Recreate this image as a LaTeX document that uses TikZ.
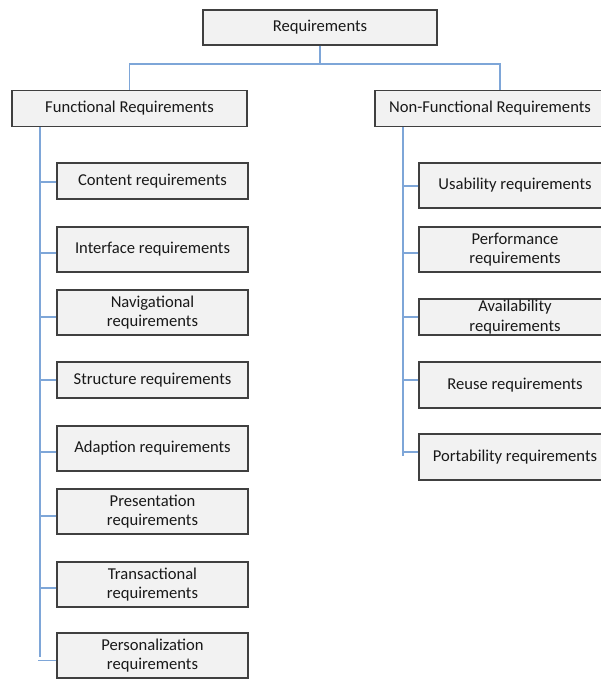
\documentclass[tikz,border=0pt]{standalone}
\usepackage{fontspec}
\setmainfont{Carlito}
\begin{document}
\begin{tikzpicture}[x=1pt,y=-1pt,
  box/.style={draw=boxline, fill=boxfill, line width=1.3pt, inner sep=0pt,
    align=center, font=\fontsize{16.6}{19.5}\selectfont, text=black!90},
  link/.style={draw=linkblue, line width=1.3pt},
]
\definecolor{boxline}{HTML}{404040}
\definecolor{boxfill}{HTML}{F2F2F2}
\definecolor{linkblue}{HTML}{7EA6D8}
\useasboundingbox (0,0) rectangle (600,679);

% top level
\node[box, minimum width=234, minimum height=35] (req) at (320,27.5) {Requirements};
\node[box, minimum width=235, minimum height=36] (fr) at (129.5,108.5) {Functional Requirements};
\node[box, minimum width=230, minimum height=36] (nfr) at (490,108.5) {Non-Functional Requirements};

% functional requirements
\tikzset{lbox/.style={box, minimum width=191}}
\node[lbox, minimum height=36] (c1) at (152.5,181) {Content requirements};
\node[lbox, minimum height=45] (c2) at (152.5,249.5) {Interface requirements};
\node[lbox, minimum height=45] (c3) at (152.5,312.5) {Navigational\\requirements};
\node[lbox, minimum height=36] (c4) at (152.5,380) {Structure requirements};
\node[lbox, minimum height=45] (c5) at (152.5,448.5) {Adaption requirements};
\node[lbox, minimum height=45] (c6) at (152.5,511.5) {Presentation\\requirements};
\node[lbox, minimum height=45] (c7) at (152.5,584.5) {Transactional\\requirements};
\node[lbox, minimum height=45] (c8) at (152.5,655.5) {Personalization\\requirements};

% non-functional requirements
\tikzset{rbox/.style={box, minimum width=192}}
\node[rbox, minimum height=45] (n1) at (515,185.5) {Usability requirements};
\node[rbox, minimum height=45] (n2) at (515,249.5) {Performance\\requirements};
\node[rbox, minimum height=36] (n3) at (515,317) {Availability\\requirements};
\node[rbox, minimum height=46] (n4) at (515,385) {Reuse requirements};
\node[rbox, minimum height=46] (n5) at (515,457) {Portability requirements};

% links between levels
\coordinate (mid) at (320,64);
\draw[link] (req.south) -- (mid);
\draw[link] (mid) -| (fr.north);
\draw[link] (mid) -| ([xshift=10pt]nfr.north);

% left spine
\coordinate (ltop) at (40,127);
\coordinate (lend) at (40,657);
\draw[link] (ltop) -- (lend);
\draw[link] ([yshift=-1pt]c1.west) -- ++(-17,0);
\draw[link] ([yshift=-3.5pt]c2.west) -- ++(-17,0);
\draw[link] ([yshift=-4.5pt]c3.west) -- ++(-17,0);
\draw[link] (c4.west) -- ++(-17,0);
\draw[link] ([yshift=-3.5pt]c5.west) -- ++(-17,0);
\draw[link] ([yshift=-4.5pt]c6.west) -- ++(-17,0);
\draw[link] ([yshift=-3.5pt]c7.west) -- ++(-17,0);
\draw[link] ([yshift=-5pt]c8.west) -- ++(-18,0);

% right spine
\coordinate (rtop) at (403,127);
\coordinate (rend) at (403,456);
\draw[link] (rtop) -- (rend);
\draw[link] ([yshift=-0.5pt]n1.west) -- ++(-16,0);
\draw[link] ([yshift=-3.5pt]n2.west) -- ++(-16,0);
\draw[link] (n3.west) -- ++(-16,0);
\draw[link] ([yshift=5pt]n4.west) -- ++(-16,0);
\draw[link] ([yshift=5pt]n5.west) -- ++(-16,0);
\end{tikzpicture}
\end{document}
